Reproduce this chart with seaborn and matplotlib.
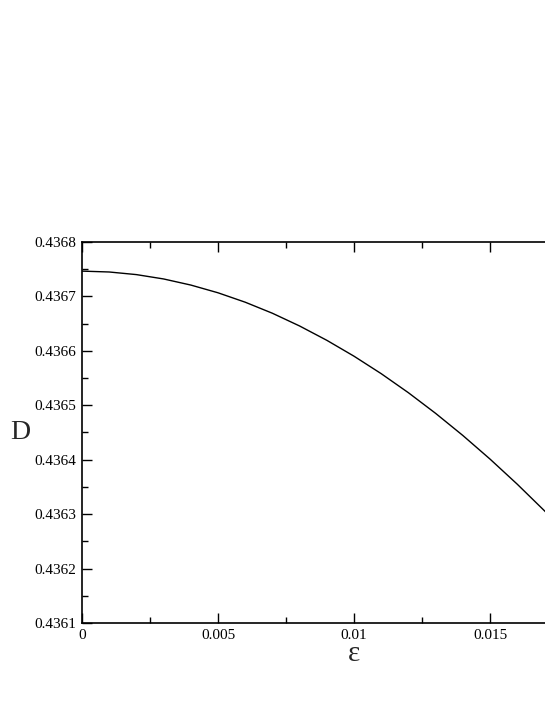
import numpy as np
import pandas as pd
import matplotlib
matplotlib.use("Agg")
import matplotlib.pyplot as plt
from matplotlib.ticker import MultipleLocator, FixedLocator, FormatStrFormatter
import seaborn as sns

# valores (epsilon, D)
eps = [0.000, 0.001, 0.002, 0.003, 0.004, 0.005, 0.006, 0.007, 0.008, 0.009,
       0.010, 0.011, 0.012, 0.013, 0.014, 0.015, 0.016, 0.017, 0.018]
D_vals = [0.4367465, 0.4367449, 0.4367401, 0.4367321, 0.4367209, 0.4367067,
          0.4366894, 0.4366691, 0.4366457, 0.4366194, 0.4365902, 0.4365581,
          0.4365231, 0.4364852, 0.4364446, 0.4364012, 0.4363551, 0.4363063,
          0.4362548]
x_ticks = [0, 0.005, 0.01, 0.015]
x_tick_labels = ["0", "0.005", "0.01", "0.015"]

df = pd.DataFrame({"eps": eps, "D": D_vals})

sns.set_style("ticks")
plt.rcParams["font.family"] = ["Liberation Serif", "DejaVu Serif"]

W, H = 545, 705
fig = plt.figure(figsize=(W / 100, H / 100), dpi=100)
# eixo original vai até 0.02 e foi cortado na borda direita
left, right, top, bottom = 82, 626, 242, 623
ax = fig.add_axes([left / W, (H - bottom) / H, (right - left) / W, (bottom - top) / H])

sns.lineplot(data=df, x="eps", y="D", ax=ax, color="black", linewidth=1.0)

ax.set_xlim(0, 0.02)
ax.set_ylim(0.4361, 0.4368)
ax.xaxis.set_major_locator(FixedLocator(x_ticks))
ax.set_xticklabels(x_tick_labels)
ax.xaxis.set_minor_locator(MultipleLocator(0.0025))
ax.yaxis.set_major_locator(MultipleLocator(0.0001))
ax.yaxis.set_minor_locator(MultipleLocator(0.00005))
ax.yaxis.set_major_formatter(FormatStrFormatter("%.4f"))

ax.tick_params(which="both", direction="in", top=True, right=True, colors="black",
               labelsize=11)
ax.tick_params(which="major", length=7.5, width=1.0, pad=4)
ax.tick_params(which="minor", length=4, width=1.0)
for s in ax.spines.values():
    s.set_linewidth(1.2)
    s.set_color("black")

ax.set_xlabel("ε", fontsize=21)
ax.set_ylabel("D", fontsize=20, rotation=0)
ax.xaxis.set_label_coords(0.5, -0.082)
ax.yaxis.set_label_coords((20 - left) / (right - left), 0.5)
ax.yaxis.label.set_va("center")
ax.xaxis.label.set_va("center")
ax.grid(False)

fig.savefig("out.png", dpi=100)
